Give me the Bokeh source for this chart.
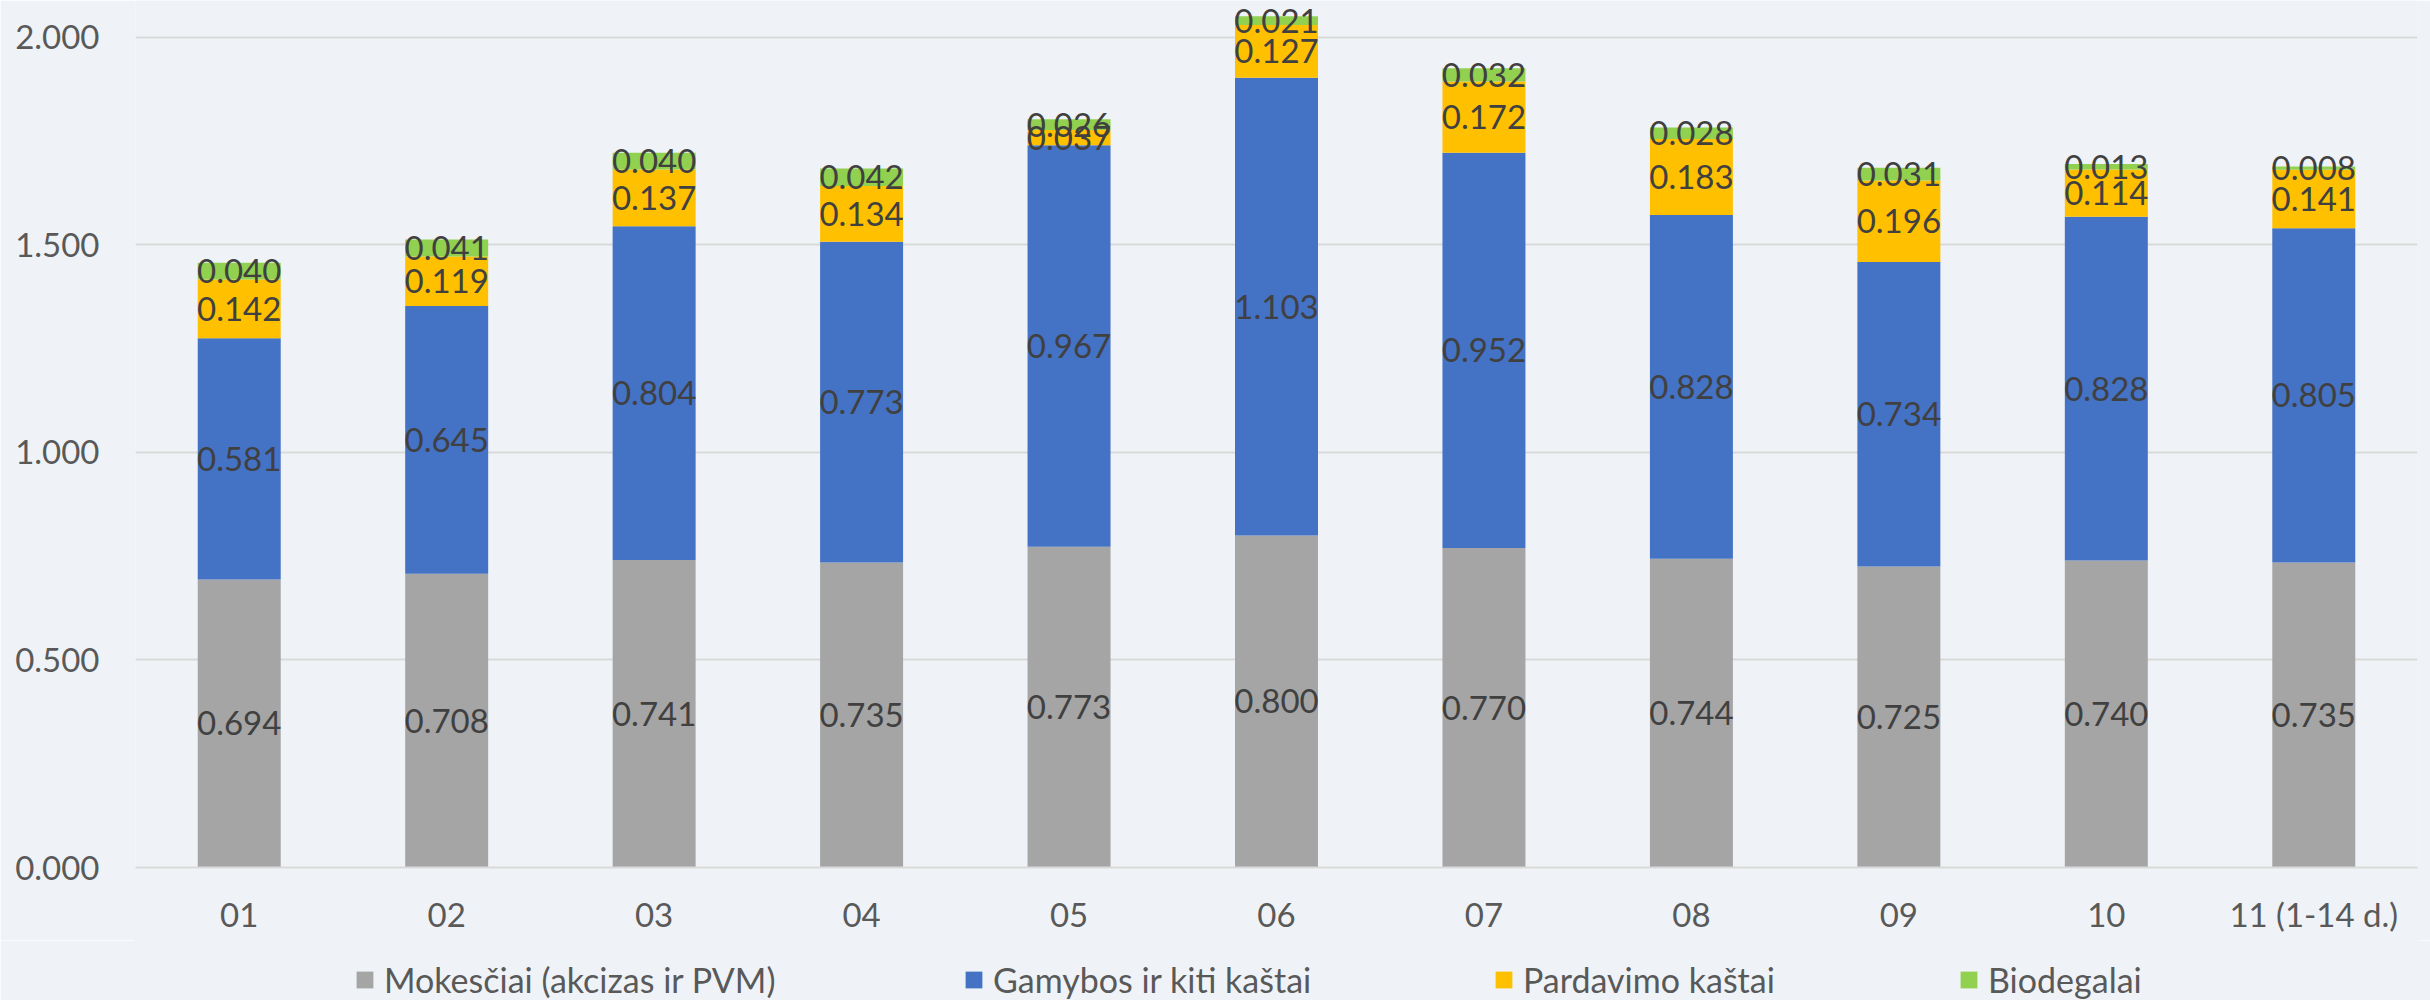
from bokeh.plotting import figure
from bokeh.layouts import column
from bokeh.models import (ColumnDataSource, FactorRange, FixedTicker, NumeralTickFormatter,
                          Legend, LegendItem)
from bokeh.core.properties import value
from bokeh.embed import file_html
from bokeh.resources import INLINE

months = ["01", "02", "03", "04", "05", "06", "07", "08", "09", "10", "11 (1-14 d.)"]
mokesciai = [0.694, 0.708, 0.741, 0.735, 0.773, 0.800, 0.770, 0.744, 0.725, 0.740, 0.735]
gamybos = [0.581, 0.645, 0.804, 0.773, 0.967, 1.103, 0.952, 0.828, 0.734, 0.828, 0.805]
pardavimo = [0.142, 0.119, 0.137, 0.134, 0.037, 0.127, 0.172, 0.183, 0.196, 0.114, 0.141]
biodegalai = [0.040, 0.041, 0.040, 0.042, 0.026, 0.021, 0.032, 0.028, 0.031, 0.013, 0.008]
series_names = ["Mokesčiai (akcizas ir PVM)", "Gamybos ir kiti kaštai", "Pardavimo kaštai", "Biodegalai"]
y_ticks = [0.0, 0.5, 1.0, 1.5, 2.0]

colors = ["#A5A5A5", "#4472C4", "#FFC000", "#92D050"]
keys = ["mok", "gam", "par", "bio"]
BG = "#eff3f7"
FONT = "Lato"
FS = "33px"

source = ColumnDataSource(dict(months=months, mok=mokesciai, gam=gamybos, par=pardavimo, bio=biodegalai))

p = figure(x_range=FactorRange(factors=months), y_range=(0, 2.089),
           width=2430, height=940, output_backend="svg", toolbar_location=None,
           min_border_left=135, min_border_right=13, min_border_top=0, min_border_bottom=73,
           background_fill_color=BG, border_fill_color=BG, outline_line_color=None)

renderers = p.vbar_stack(keys, x="months", width=0.4, color=colors, source=source, line_color=None)

# data labels centred in each segment
all_series = [mokesciai, gamybos, pardavimo, biodegalai]
lx, ly, lt = [], [], []
for i, m in enumerate(months):
    base = 0.0
    for s in all_series:
        v = s[i]
        lx.append(m)
        ly.append(base + v / 2)
        lt.append(f"{v:.3f}")
        base += v
p.text(x=lx, y=ly, text=lt, text_align="center", text_baseline="middle",
       text_font=value(FONT), text_font_size=FS, text_color="#404040")

# axes
p.yaxis.ticker = FixedTicker(ticks=y_ticks)
p.yaxis.formatter = NumeralTickFormatter(format="0.000")
p.yaxis.axis_line_color = None
p.yaxis.major_tick_line_color = None
p.yaxis.minor_tick_line_color = None
p.yaxis.major_tick_out = 0
p.yaxis.major_label_standoff = 36
p.yaxis.major_label_text_font = FONT
p.yaxis.major_label_text_font_size = FS
p.yaxis.major_label_text_color = "#595959"

p.xaxis.axis_line_color = "#d9d9d9"
p.xaxis.axis_line_width = 2
p.xaxis.major_tick_line_color = None
p.xaxis.major_tick_out = 0
p.xaxis.major_label_standoff = 26
p.xaxis.major_label_text_font = FONT
p.xaxis.major_label_text_font_size = FS
p.xaxis.major_label_text_color = "#595959"

p.xgrid.grid_line_color = None
p.ygrid.grid_line_color = "#d9d9d9"
p.ygrid.grid_line_width = 2

# legend strip below the chart
pl = figure(width=2430, height=60, output_backend="svg", toolbar_location=None,
            x_range=(0, 1), y_range=(0, 1), x_axis_type=None, y_axis_type=None,
            min_border=0, min_border_left=135, min_border_right=13, min_border_top=0, min_border_bottom=0,
            background_fill_color=BG, border_fill_color=BG,
            outline_line_color=BG, outline_line_width=3)
pl.xgrid.visible = False
pl.ygrid.visible = False
leg_x = [219, 828, 1358, 1823]
for c, name, x in zip(colors, series_names, leg_x):
    r = pl.vbar(x=[0], top=[0], bottom=[0], width=0, color=c, line_color=None)
    lg = Legend(items=[LegendItem(label=name, renderers=[r])], location=(x, 0),
                orientation="horizontal", padding=0, margin=0, spacing=0,
                glyph_width=21, glyph_height=21, label_standoff=9,
                label_text_font=FONT, label_text_font_size="34px", label_text_color="#595959",
                background_fill_alpha=0, border_line_alpha=0)
    pl.add_layout(lg, "center")

layout = column(p, pl, spacing=0)
open("out.html", "w").write(file_html(layout, INLINE))
